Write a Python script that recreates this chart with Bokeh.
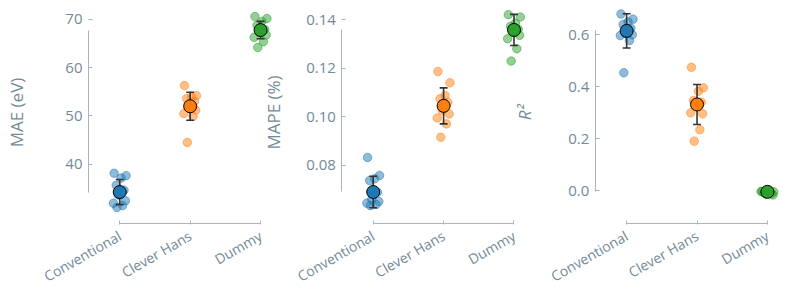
from bokeh.plotting import figure
from bokeh.models import LinearAxis, FixedTicker, PrintfTickFormatter, Range1d
from bokeh.embed import file_html
from bokeh.resources import INLINE

# ---------------- data ----------------
categories = ["Conventional", "Clever Hans", "Dummy"]
colors = ["#1f77b4", "#ff7f0e", "#2ca02c"]

mae_conventional = [38.1, 37.6, 37.1, 35.6, 34.6, 33.6, 32.4, 31.9, 31.4, 31.0]
mae_clever_hans = [56.3, 54.2, 53.9, 53.6, 53.0, 52.4, 51.2, 50.5, 49.9, 44.5]
mae_dummy = [70.6, 70.2, 69.6, 68.8, 67.9, 67.4, 66.8, 66.3, 65.4, 64.2]
mae_means = [34.2, 52.0, 67.8]
mae_sds = [2.6, 2.9, 1.8]
mae_ticks = [40, 50, 60, 70]

mape_conventional = [0.0833, 0.0759, 0.0745, 0.0738, 0.0690, 0.0660, 0.0652, 0.0645, 0.0640, 0.0635]
mape_clever_hans = [0.1186, 0.1140, 0.1088, 0.1074, 0.1060, 0.1026, 0.1012, 0.0995, 0.0971, 0.0916]
mape_dummy = [0.1420, 0.1410, 0.1385, 0.1372, 0.1360, 0.1350, 0.1335, 0.1321, 0.1280, 0.1229]
mape_means = [0.0691, 0.1045, 0.1357]
mape_sds = [0.0065, 0.0074, 0.0064]
mape_ticks = [0.08, 0.10, 0.12, 0.14]

r2_conventional = [0.680, 0.660, 0.650, 0.640, 0.625, 0.605, 0.600, 0.597, 0.578, 0.454]
r2_clever_hans = [0.475, 0.396, 0.383, 0.347, 0.341, 0.338, 0.296, 0.300, 0.235, 0.191]
r2_dummy = [-0.002, -0.004, -0.006, -0.008, -0.010, -0.012, -0.016, -0.003, -0.005, -0.007]
r2_means = [0.615, 0.332, -0.004]
r2_sds = [0.066, 0.077, 0.004]
r2_ticks = [0.0, 0.2, 0.4, 0.6]

# ---------------- style / layout ----------------
FONT = "Open Sans"
TEXT = "#738a99"
SPINE = "#a7b5bf"
ERR = "#333333"

STEP = 5            # x units between categories inside a panel
PANEL = 18          # x units between panels
SPINE_DX = -2.22    # left spine position relative to first category
PX_PER_UNIT = 14.08
FRAME_W, FRAME_H = 701, 224
X_LEFT = SPINE_DX
X_RIGHT = X_LEFT + FRAME_W / PX_PER_UNIT
MIN_LEFT = 88
CAP = 0.28
jitter = [-0.40, 0.45, 0.10, -0.25, 0.30, -0.10, 0.40, -0.45, 0.20, -0.20]

panels = [
    dict(groups=[mae_conventional, mae_clever_hans, mae_dummy], means=mae_means, sds=mae_sds,
         ticks=mae_ticks, fmt="%d", yr=(27.47, 73.94), label="MAE (eV)", italic=False,
         standoff=34, name="default"),
    dict(groups=[mape_conventional, mape_clever_hans, mape_dummy], means=mape_means, sds=mape_sds,
         ticks=mape_ticks, fmt="%.2f", yr=(0.05574, 0.14781), label="MAPE (%)", italic=False,
         standoff=18, name="mape"),
    dict(groups=[r2_conventional, r2_clever_hans, r2_dummy], means=r2_means, sds=r2_sds,
         ticks=r2_ticks, fmt="%.1f", yr=(-0.1296, 0.7319), label="R²", italic=True,
         standoff=29, name="r2"),
]

p = figure(frame_width=FRAME_W, frame_height=FRAME_H, output_backend="svg",
           toolbar_location=None, x_range=Range1d(X_LEFT, X_RIGHT),
           y_range=Range1d(*panels[0]["yr"]), x_axis_location=None, y_axis_location=None,
           min_border_left=MIN_LEFT, min_border_right=0, min_border_top=0, min_border_bottom=60)
p.outline_line_color = None
p.background_fill_color = "white"
p.grid.visible = False
p.extra_y_ranges = {pn["name"]: Range1d(*pn["yr"]) for pn in panels[1:]}

# shared bottom axis: inward ticks and rotated category labels
tick_pos, tick_lab = [], {}
for k in range(len(panels)):
    for i, c in enumerate(categories):
        pos = k * PANEL + i * STEP
        tick_pos.append(pos)
        tick_lab[pos] = c
xax = LinearAxis(ticker=FixedTicker(ticks=tick_pos), major_label_overrides=tick_lab,
                 axis_line_color=None, major_tick_in=4, major_tick_out=0,
                 major_tick_line_color=SPINE, minor_tick_line_color=None,
                 major_label_orientation=0.52, major_label_standoff=10,
                 major_label_text_color=TEXT, major_label_text_font=FONT,
                 major_label_text_font_size="14px")
p.add_layout(xax, "below")

y0 = panels[0]["yr"]
spine_y = y0[0] + 0.6 * (y0[1] - y0[0]) / FRAME_H   # just inside the frame bottom

for k, pn in enumerate(panels):
    off = k * PANEL
    rn = pn["name"]
    means, sds = pn["means"], pn["sds"]
    spine_x = off + SPINE_DX
    cx = [off + i * STEP for i in range(len(means))]

    # bottom spine from first to last category
    p.add_layout(LinearAxis(ticker=FixedTicker(ticks=[]), bounds=(cx[0], cx[-1]),
                            fixed_location=spine_y, axis_line_color=SPINE,
                            major_tick_in=0, major_tick_out=0, minor_tick_line_color=None),
                 "below")

    tick_kw = dict(ticker=FixedTicker(ticks=pn["ticks"]),
                   formatter=PrintfTickFormatter(format=pn["fmt"]),
                   axis_line_color=None, major_tick_in=4, major_tick_out=0,
                   minor_tick_line_color=None, major_tick_line_color=SPINE,
                   major_label_standoff=6, major_label_text_color=TEXT,
                   major_label_text_font=FONT, major_label_text_font_size="15px",
                   axis_label=pn["label"], axis_label_standoff=pn["standoff"],
                   axis_label_text_color=TEXT, axis_label_text_font=FONT,
                   axis_label_text_font_size="17px",
                   axis_label_text_font_style="italic" if pn["italic"] else "normal")
    spine_kw = dict(ticker=FixedTicker(ticks=[]), bounds=(min(means), max(means)),
                    axis_line_color=SPINE, major_tick_in=0, major_tick_out=0,
                    minor_tick_line_color=None)

    if k == 0:
        # first panel: ordinary left axes at the frame edge
        p.add_layout(LinearAxis(**spine_kw), "left")
        p.add_layout(LinearAxis(**tick_kw), "left")
    else:
        p.add_layout(LinearAxis(y_range_name=rn, fixed_location=spine_x, **spine_kw), "left")
        p.add_layout(LinearAxis(y_range_name=rn, fixed_location=spine_x, **tick_kw), "left")

    # strip points
    for i, (vals, col) in enumerate(zip(pn["groups"], colors)):
        xs = [cx[i] + jitter[j % len(jitter)] for j in range(len(vals))]
        p.scatter(xs, vals, size=8.5, fill_color=col, fill_alpha=0.5,
                  line_color=col, line_alpha=0.5, line_width=1, y_range_name=rn)

    # error bars: mean +/- sd
    lo = [m - s for m, s in zip(means, sds)]
    hi = [m + s for m, s in zip(means, sds)]
    p.segment(x0=cx, y0=lo, x1=cx, y1=hi, line_color=ERR, line_width=1.6, y_range_name=rn)
    for ends in (lo, hi):
        p.segment(x0=[c - CAP for c in cx], y0=ends, x1=[c + CAP for c in cx], y1=ends,
                  line_color=ERR, line_width=1.6, y_range_name=rn)

    # means
    p.scatter(cx, means, size=13, fill_color=colors, line_color="black", line_width=1,
              y_range_name=rn)

open("out.html", "w").write(file_html(p, INLINE))
